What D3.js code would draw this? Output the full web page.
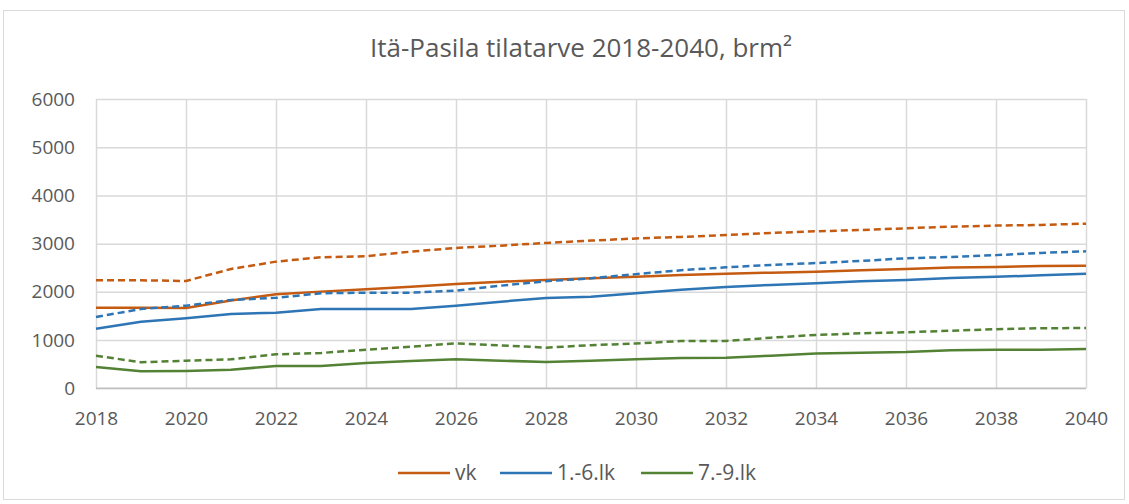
<!DOCTYPE html>
<html>
<head>
<meta charset="utf-8">
<script src="https://cdn.jsdelivr.net/npm/d3@7"></script>
<style>
  html, body { margin: 0; padding: 0; background: #fff; }
  svg { display: block; }
</style>
</head>
<body>
<svg id="chart" width="1129" height="504"></svg>
<script>
const years = d3.range(2018, 2041);
const xTickLabels = [2018, 2020, 2022, 2024, 2026, 2028, 2030, 2032, 2034, 2036, 2038, 2040];
const yTickLabels = [0, 1000, 2000, 3000, 4000, 5000, 6000];

const vk = [1670, 1670, 1665, 1820, 1950, 2005, 2053, 2108, 2164, 2212, 2247, 2282, 2312, 2351, 2378, 2399, 2418, 2448, 2475, 2503, 2517, 2537, 2540];
const vkDashed = [2240, 2240, 2226, 2475, 2627, 2718, 2739, 2835, 2911, 2959, 3015, 3063, 3108, 3139, 3180, 3222, 3256, 3284, 3319, 3353, 3374, 3388, 3415];
const lk16 = [1237, 1382, 1452, 1541, 1569, 1645, 1645, 1645, 1714, 1797, 1873, 1901, 1970, 2046, 2102, 2143, 2178, 2220, 2247, 2288, 2312, 2344, 2378];
const lk16Dashed = [1479, 1645, 1714, 1832, 1876, 1971, 1984, 1984, 2025, 2129, 2220, 2282, 2368, 2448, 2510, 2558, 2597, 2641, 2697, 2724, 2762, 2807, 2842];
const lk79 = [442, 352, 359, 386, 463, 463, 525, 566, 601, 573, 546, 573, 604, 629, 636, 677, 722, 739, 753, 788, 798, 801, 815];
const lk79Dashed = [677, 539, 573, 601, 705, 732, 801, 863, 933, 891, 843, 895, 929, 981, 981, 1050, 1106, 1141, 1162, 1195, 1227, 1245, 1251];

const series = [
  { name: "vk", values: vk, color: "#C55A11", dashed: false, legend: true },
  { name: "1.-6.lk", values: lk16, color: "#2E75B6", dashed: false, legend: true },
  { name: "7.-9.lk", values: lk79, color: "#548235", dashed: false, legend: true },
  { name: "vk ennuste", values: vkDashed, color: "#C55A11", dashed: true, legend: false },
  { name: "1.-6.lk ennuste", values: lk16Dashed, color: "#2E75B6", dashed: true, legend: false },
  { name: "7.-9.lk ennuste", values: lk79Dashed, color: "#548235", dashed: true, legend: false }
];

const svg = d3.select("#chart");
const font = "'Open Sans', 'Liberation Sans', sans-serif";
const textColor = "#595959";

// outer frame
svg.append("rect").attr("x", 3.5).attr("y", 10.5).attr("width", 1121).attr("height", 489)
  .attr("fill", "#fff").attr("stroke", "#d9d9d9").attr("stroke-width", 1);

const x = d3.scalePoint().domain(years).range([96, 1086]);
const y = d3.scaleLinear().domain([0, 6000]).range([388.3, 99]);

// horizontal gridlines
const yAxis = d3.axisLeft(y).tickValues(yTickLabels).tickSize(-(1086 - 96)).tickPadding(21).tickFormat(d3.format("d"));
const gy = svg.append("g").attr("transform", "translate(96,0)").call(yAxis);
gy.select(".domain").remove();
gy.selectAll(".tick line").attr("stroke", "#d9d9d9").attr("stroke-width", 1.5);
gy.selectAll(".tick text").attr("fill", textColor).style("font-family", font).style("font-size", "19px");

// vertical gridlines
const xAxis = d3.axisBottom(x).tickValues(xTickLabels).tickSize(-(388.3 - 99)).tickPadding(23).tickFormat(d3.format("d"));
const gx = svg.append("g").attr("transform", "translate(0,388.3)").call(xAxis);
gx.select(".domain").remove();
gx.selectAll(".tick line").attr("stroke", "#d9d9d9").attr("stroke-width", 1.5);
gx.selectAll(".tick text").attr("fill", textColor).style("font-family", font).style("font-size", "19px");

// bottom axis line
svg.append("line").attr("x1", 96).attr("x2", 1086).attr("y1", y(0)).attr("y2", y(0))
  .attr("stroke", "#bfbfbf").attr("stroke-width", 1.5);

const line = d3.line().x((d, i) => x(years[i])).y(d => y(d));

svg.append("g").selectAll("path").data(series).join("path")
  .attr("d", d => line(d.values))
  .attr("fill", "none")
  .attr("stroke", d => d.color)
  .attr("stroke-width", 2.5)
  .attr("stroke-linejoin", "round")
  .attr("stroke-dasharray", d => d.dashed ? "7,4" : null);

// title
svg.append("text").attr("x", 581).attr("y", 57).attr("text-anchor", "middle")
  .attr("fill", textColor).style("font-family", font).style("font-size", "26px")
  .text("Itä-Pasila tilatarve 2018-2040, brm²");

// legend
const legendItems = series.filter(s => s.legend);
const legendX = [398, 500, 641];
const lg = svg.append("g");
legendItems.forEach((s, i) => {
  const g = lg.append("g").attr("transform", `translate(${legendX[i]},473)`);
  g.append("line").attr("x1", 0).attr("x2", 52).attr("y1", 0).attr("y2", 0)
    .attr("stroke", s.color).attr("stroke-width", 2.5);
  g.append("text").attr("x", 57).attr("y", 7).attr("fill", textColor)
    .style("font-family", font).style("font-size", "21px").text(s.name);
});
</script>
</body>
</html>
